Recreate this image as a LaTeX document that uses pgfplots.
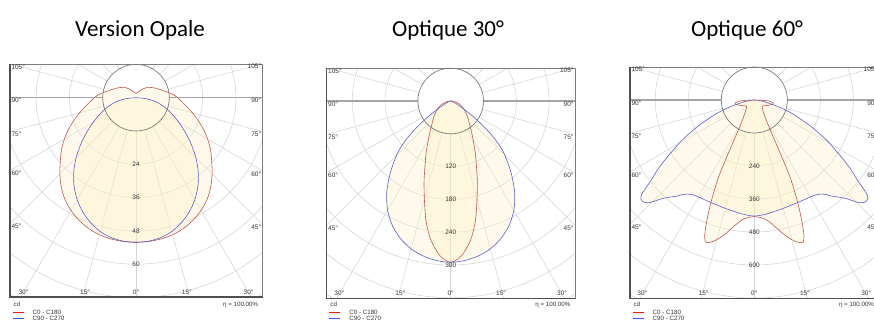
\documentclass[border=0pt]{standalone}
\usepackage{fontspec}
\setmainfont{Liberation Sans}
\newfontfamily\titlefont{Carlito}
\usepackage{pgfplots}
\pgfplotsset{compat=1.18}
\usepackage{pgfplotstable}

\definecolor{gridc}{RGB}{212,212,212}
\definecolor{framec}{RGB}{80,80,80}
\definecolor{framelt}{RGB}{125,125,125}
\definecolor{lampc}{RGB}{125,125,125}
\definecolor{horc}{RGB}{165,165,165}
\definecolor{curvered}{RGB}{192,88,80}
\definecolor{curveblue}{RGB}{95,95,200}
\definecolor{fillc}{RGB}{255,238,195}
\definecolor{txtc}{RGB}{55,55,55}
\definecolor{legred}{RGB}{255,20,20}
\definecolor{legblue}{RGB}{70,70,255}

\tikzset{
  lbl/.style={font=\fontsize{6.5}{7}\selectfont, text=txtc, inner sep=0pt},
  leg/.style={font=\fontsize{6.2}{7}\selectfont, text=txtc, inner sep=0pt},
  ttl/.style={font=\titlefont\fontsize{23}{27}\selectfont, text=black, anchor=base, inner sep=0pt},
}

\pgfplotsset{
  panel/.style={anchor=south west, hide axis, clip=true},
  lightfill/.style={draw=none, fill=fillc, fill opacity=0.33, smooth, data cs=polar},
  redcurve/.style={draw=curvered, line width=0.6pt, smooth, data cs=polar},
  bluecurve/.style={draw=curveblue, line width=0.6pt, smooth, data cs=polar},
}

% polar grid: cx, cy, left, right, bottom, top, ring spacing
\newcommand{\panelgrid}[7]{%
  \begin{scope}
    \clip (#1-#3,#2-#5) rectangle (#1+#4,#2+#6);
    \foreach \k in {2,...,9} {\draw[gridc, line width=0.55pt] (#1,#2) circle[radius=\k*#7];}
    \foreach \ang in {0,15,...,345} {\draw[gridc, line width=0.55pt] (#1,#2) ++(\ang:#7) -- ++(\ang:330);}
  \end{scope}}

% lamp circle, horizon line, frame and angle labels: cx, cy, left, right, bottom, ring
\newcommand{\panelframe}[6]{%
  \draw[horc, line width=1.1pt] (#1-#3,#2) -- (#1-#6,#2) (#1+#6,#2) -- (#1+#4,#2);
  \draw[lampc, line width=0.7pt] (#1,#2) circle[radius=#6];
  \draw[framelt, line width=0.7pt] (#1-#3,#2+#6) rectangle (#1+#4,#2-#5);
  \draw[framec, line width=1.2pt] (#1-#3,#2+#6) -- (#1-#3,#2-#5) -- (#1+#4,#2-#5);
  \foreach \ang in {45,60,75,90,105} {
    \node[lbl, anchor=west] at (#1-#3+1.3, {#2-#3*cot(\ang)-3}) {\ang°};
    \node[lbl, anchor=east] at (#1+#4-1.3, {#2-#4*cot(\ang)-3}) {\ang°};
  }
  \node[lbl, anchor=base] at (#1, #2-#5+2.5) {0°};
  \foreach \ang in {15,30} {
    \node[lbl, anchor=base] at ({#1-#5*tan(\ang)+2.5}, #2-#5+2.5) {\ang°};
    \node[lbl, anchor=base] at ({#1+#5*tan(\ang)-2.5}, #2-#5+2.5) {\ang°};
  }}

% intensity values on the downward axis: cx, cy, ring, four labels
\newcommand{\ringlabels}[7]{%
  \node[lbl] at (#1, #2-2*#3) {#4};
  \node[lbl] at (#1, #2-3*#3) {#5};
  \node[lbl] at (#1, #2-4*#3) {#6};
  \node[lbl] at (#1, #2-5*#3) {#7};}

% key below each diagram: left and right of the frame (rows at fixed heights)
\newcommand{\panellegend}[2]{%
  \fill[legred] (#1+2.5, 9.1) rectangle (#1+13.5, 10.3);
  \fill[legblue] (#1+2.5, 3.1) rectangle (#1+13.5, 4.3);
  \node[leg, anchor=west] at (#1+3.5, 17.7) {cd};
  \node[leg, anchor=west] at (#1+22.5, 9.7) {C0 - C180};
  \node[leg, anchor=west] at (#1+22.5, 3.7) {C90 - C270};
  \node[leg, anchor=east] at (#2-4.4, 16.6) {η = 100.00\%};}

% ---------- luminous intensity data (gamma in degrees, cd) ----------
\pgfplotstableread{
g I
-180 1.6
-170 1.8
-160 2.2
-150 2.9
-140 4.3
-130 5.8
-120 7.2
-115 8.0
-110 8.9
-105 10.0
-100 11.6
-95 13.4
-90 15.0
-85 16.6
-80 18.6
-75 21.0
-70 23.8
-65 26.8
-60 29.8
-55 32.8
-50 35.6
-45 38.8
-40 41.9
-35 44.7
-30 46.9
-25 48.7
-20 50.1
-15 51.1
-10 51.7
-5 52.0
0 52.1
5 52.0
10 51.7
15 51.1
20 50.1
25 48.7
30 46.9
35 44.7
40 41.9
45 38.8
50 35.6
55 32.8
60 29.8
65 26.8
70 23.8
75 21.0
80 18.6
85 16.6
90 15.0
95 13.4
100 11.6
105 10.0
110 8.9
115 8.0
120 7.2
130 5.8
140 4.3
150 2.9
160 2.2
170 1.8
180 1.6
}\opaleC

\pgfplotstableread{
g I
-90 0
-85 3.3
-80 6.5
-75 9.2
-70 11.7
-65 14.6
-60 17.9
-55 21.6
-50 25.9
-45 30.5
-40 34.9
-35 38.9
-30 42.4
-25 45.4
-20 47.9
-15 49.9
-10 51.2
-5 51.9
0 52.1
5 51.9
10 51.2
15 49.9
20 47.9
25 45.4
30 42.4
35 38.9
40 34.9
45 30.5
50 25.9
55 21.6
60 17.9
65 14.6
70 11.7
75 9.2
80 6.5
85 3.3
90 0
}\opaleH

\pgfplotstableread{
g I
-90 0
-85 3.5
-80 7.5
-75 12
-70 17
-65 22
-60 27
-55 32
-50 38
-45 45
-40 53
-35 65
-30 82
-25 107
-20 140
-18 158
-15 186
-12 220
-10 240
-8 258
-5 278
-3 288
0 295
3 288
5 278
8 258
10 240
12 220
15 186
18 158
20 140
25 107
30 82
35 65
40 53
45 45
50 38
55 32
60 27
65 22
70 17
75 12
80 7.5
85 3.5
90 0
}\trenteC

\pgfplotstableread{
g I
-90 0
-85 0.8
-80 1.8
-75 3
-70 5
-65 10
-60 21
-58 30
-55 52
-52 80
-50 100
-48 118
-45 140
-40 172
-35 204
-30 231
-25 252
-20 268
-15 280
-10 288
-5 293
0 295
5 293
10 288
15 280
20 268
25 252
30 231
35 204
40 172
45 140
48 118
50 100
52 80
55 52
58 30
60 21
65 10
70 5
75 3
80 1.8
85 0.8
90 0
}\trenteH

\pgfplotstableread{
g I
-90 0
-87 45
-84 62
-81 70
-78 71
-75 65
-70 56
-65 48
-60 42
-55 38
-50 37
-45 40
-40 48
-36 58
-33 70
-30 92
-28 125
-27 160
-26 215
-25 302
-24 352
-23 402
-22 448
-21 492
-20 528
-19 546
-18 546
-16 534
-14 516
-12 496
-10 474
-7 446
-5 434
-3 428
0 424
3 428
5 434
7 446
10 474
12 496
14 516
16 534
18 546
19 546
20 528
21 492
22 448
23 402
24 352
25 302
26 215
27 160
28 125
30 92
33 70
36 58
40 48
45 40
50 37
55 38
60 42
65 48
70 56
75 65
78 71
81 70
84 62
87 45
90 0
}\soixanteC

\pgfplotstableread{
g I
-90 0
-85 15
-80 37
-77 58
-75 84
-72 121
-70 150
-67 192
-65 228
-62 280
-60 318
-58 352
-56 395
-54 438
-52 478
-51 508
-50 535
-49 547
-48 549
-47 546
-46 538
-45 524
-44 506
-43 490
-41 468
-39 450
-37 430
-35 418
-33 411
-30 407
-25 405
-20 405
-15 408
-10 412
-5 418
0 422
5 418
10 412
15 408
20 405
25 405
30 407
33 411
35 418
37 430
39 450
41 468
43 490
44 506
45 524
46 538
47 546
48 549
49 547
50 535
51 508
52 478
54 438
56 395
58 352
60 318
62 280
65 228
67 192
70 150
72 121
75 84
77 58
80 37
85 15
90 0
}\soixanteH

\begin{document}
\begin{tikzpicture}[x=1pt, y=1pt]

% keys below the diagrams
\panellegend{10}{262.7}
\panellegend{326.7}{575}
\panellegend{630}{878.6}

% titles
\node[ttl] at (140,285.3) {Version Opale};
\node[ttl] at (448,285.3) {Optique 30°};
\node[ttl] at (747,285.3) {Optique 60°};

% ===== Version Opale =====
\panelgrid{136}{224.3}{126}{126.7}{199.3}{33.3}{33.3}
\begin{axis}[panel, at={(10pt,25pt)}, x=2.775pt, y=2.775pt,
  xmin=-45.405, xmax=45.658, ymin=-71.82, ymax=12]
  \addplot[lightfill] table[x expr=\thisrow{g}-90, y=I] {\opaleC};
  \addplot[lightfill] table[x expr=\thisrow{g}-90, y=I] {\opaleH};
  \addplot[redcurve] table[x expr=\thisrow{g}-90, y=I] {\opaleC};
  \addplot[bluecurve] table[x expr=\thisrow{g}-90, y=I] {\opaleH};
\end{axis}
\panelframe{136}{224.3}{126}{126.7}{199.3}{33.3}
\ringlabels{136}{224.3}{33.3}{24}{36}{48}{60}

% ===== Optique 30 =====
\panelgrid{450.7}{221}{124}{124.3}{197.3}{32.8}{32.8}
\begin{axis}[panel, at={(326.7pt,23.7pt)}, x=0.54667pt, y=0.54667pt,
  xmin=-226.83, xmax=227.38, ymin=-360.92, ymax=60]
  \addplot[lightfill] table[x expr=\thisrow{g}-90, y=I] {\trenteC};
  \addplot[lightfill] table[x expr=\thisrow{g}-90, y=I] {\trenteH};
  \addplot[redcurve] table[x expr=\thisrow{g}-90, y=I] {\trenteC};
  \addplot[bluecurve] table[x expr=\thisrow{g}-90, y=I] {\trenteH};
\end{axis}
\panelframe{450.7}{221}{124}{124.3}{197.3}{32.8}
\ringlabels{450.7}{221}{32.8}{120}{180}{240}{300}

% ===== Optique 60 =====
\panelgrid{754.3}{222}{124.3}{124.3}{198.3}{33}{33}
\begin{axis}[panel, at={(630pt,23.7pt)}, x=0.275pt, y=0.275pt,
  xmin=-452, xmax=452, ymin=-721.09, ymax=120]
  \addplot[lightfill] table[x expr=\thisrow{g}-90, y=I] {\soixanteC};
  \addplot[lightfill] table[x expr=\thisrow{g}-90, y=I] {\soixanteH};
  \addplot[redcurve] table[x expr=\thisrow{g}-90, y=I] {\soixanteC};
  \addplot[bluecurve] table[x expr=\thisrow{g}-90, y=I] {\soixanteH};
\end{axis}
\panelframe{754.3}{222}{124.3}{124.3}{198.3}{33}
\ringlabels{754.3}{222}{33}{240}{360}{480}{600}

\pgfresetboundingbox
\useasboundingbox (0,0) rectangle (874,322);
\end{tikzpicture}
\end{document}
